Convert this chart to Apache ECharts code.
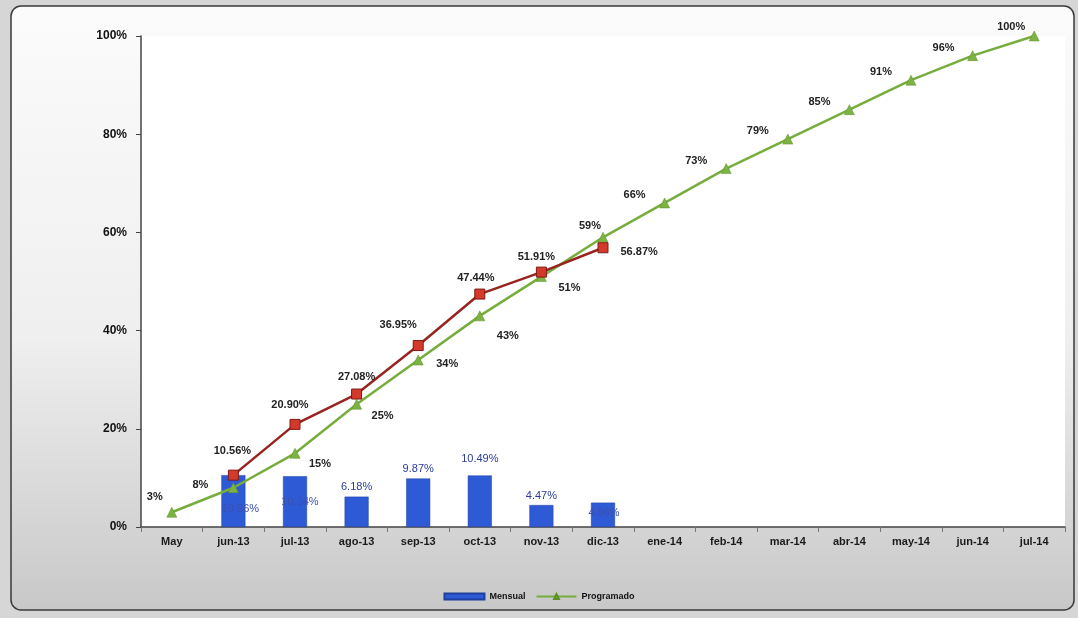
<!DOCTYPE html>
<html style="height: 100%">
   <head>
       <meta charset="utf-8">
   </head>
   <body style="height: 100%; margin: 0">
       <div id="container" style="height: 100%"></div>
       <script type="text/javascript" src="https://cdn.jsdelivr.net/npm/echarts@6/dist/echarts.min.js"></script>
       <script type="text/javascript">
var categories = ['May', 'jun-13', 'jul-13', 'ago-13', 'sep-13', 'oct-13', 'nov-13', 'dic-13',
    'ene-14', 'feb-14', 'mar-14', 'abr-14', 'may-14', 'jun-14', 'jul-14'];
var mensual = [null, 10.56, 10.34, 6.18, 9.87, 10.49, 4.47, 4.96];
var acumulado = [null, 10.56, 20.90, 27.08, 36.95, 47.44, 51.91, 56.87];
var programado = [3, 8, 15, 25, 34, 43, 51, 59, 66, 73, 79, 85, 91, 96, 100];
var yTicks = [0, 20, 40, 60, 80, 100];

// label placement, by index
var barLabelPos = ['top', 'inside', 'inside', 'top', 'top', 'top', 'top', 'inside'];
var barLabelOffset = [[0, 0], [7, 8], [5, 0], [0, 0], [0, 0], [0, -7], [0, 0], [1, -2]];
var realLabelOffset = [[0, 0], [-1, -13], [-5, -8], [0, -6], [-20, -10], [-4, -5], [-5, -4], [0, 4]];
var progLabelOffset = [[-17, -5], [-33, 8], [25, 21], [26, 22], [29, 15], [28, 31], [28, 22], [-13, -1],
    [-30, 3], [-30, 3], [-30, 3], [-30, 3], [-30, 3], [-29, 3], [-23, 2]];

var dom = document.getElementById("container");
var myChart = echarts.init(dom);
var font = 'Liberation Sans';

var option = {
    backgroundColor: '#d6d6d6',
    textStyle: { fontFamily: font },
    graphic: [{
        type: 'rect',
        shape: { x: 11, y: 6, width: 1063, height: 604, r: 10 },
        style: {
            fill: new echarts.graphic.LinearGradient(0, 0, 0, 1, [
                { offset: 0, color: '#fbfbfb' },
                { offset: 0.55, color: '#efefef' },
                { offset: 1, color: '#c8c8c8' }
            ]),
            stroke: '#3a3a3a', lineWidth: 1.5
        },
        z: -10
    }],
    legend: {
        bottom: 12,
        left: 'center',
        itemWidth: 40,
        itemHeight: 6,
        itemGap: 10,
        textStyle: { fontFamily: font, fontWeight: 'bold', fontSize: 9, color: '#111' },
        data: [
            { name: 'Mensual', icon: 'rect' },
            { name: 'Programado' }
        ]
    },
    grid: {
        left: 141, right: 13, top: 36, bottom: 91,
        show: true, backgroundColor: '#ffffff', borderWidth: 0
    },
    xAxis: {
        type: 'category',
        data: categories,
        axisLine: { lineStyle: { color: '#444', width: 1.5 } },
        axisTick: { show: true, lineStyle: { color: '#777' } },
        axisLabel: { fontFamily: font, fontWeight: 'bold', fontSize: 11, color: '#1a1a1a', margin: 9 }
    },
    yAxis: {
        type: 'value',
        min: yTicks[0],
        max: yTicks[yTicks.length - 1],
        interval: 20,
        splitLine: { show: false },
        axisLine: { show: true, lineStyle: { color: '#444', width: 1.5 } },
        axisTick: { show: true, length: 5, lineStyle: { color: '#444' } },
        axisLabel: {
            fontFamily: font, fontWeight: 'bold', fontSize: 12, color: '#111', margin: 14,
            formatter: '{value}%'
        }
    },
    series: [
        {
            name: 'Mensual',
            type: 'bar',
            barWidth: 24,
            itemStyle: { color: '#2f5ad6', borderColor: '#1d3f9e', borderWidth: 0.5 },
            data: mensual.map(function (v, i) {
                return {
                    value: v,
                    label: {
                        show: v != null,
                        position: barLabelPos[i],
                        distance: 4,
                        offset: barLabelOffset[i],
                        fontFamily: font, fontSize: 11,
                        color: barLabelPos[i] === 'top' ? '#2a3b9c' : '#3b4fb0',
                        formatter: function (p) { return p.value.toFixed(2) + '%'; }
                    }
                };
            }),
            z: 2
        },
        {
            name: 'Real',
            type: 'line',
            symbol: 'rect',
            symbolSize: 10,
            lineStyle: { color: '#96251f', width: 2.5 },
            itemStyle: { color: '#d43a2b', borderColor: '#7e1a15', borderWidth: 1 },
            data: acumulado.map(function (v, i) {
                return {
                    value: v,
                    label: {
                        show: v != null,
                        position: i === 7 ? 'right' : 'top',
                        distance: i === 7 ? 12 : 0,
                        offset: realLabelOffset[i],
                        fontFamily: font, fontWeight: 'bold', fontSize: 11, color: '#222',
                        formatter: function (p) { return p.value.toFixed(2) + '%'; }
                    }
                };
            }),
            z: 4
        },
        {
            name: 'Programado',
            type: 'line',
            symbol: 'triangle',
            symbolSize: 10,
            lineStyle: { color: '#76ad3c', width: 2.5 },
            itemStyle: { color: '#7cb342', borderColor: '#5c8f2a', borderWidth: 0.5 },
            data: programado.map(function (v, i) {
                return {
                    value: v,
                    label: {
                        show: true,
                        position: 'top',
                        distance: 0,
                        offset: progLabelOffset[i],
                        fontFamily: font, fontWeight: 'bold', fontSize: 11, color: '#222',
                        formatter: '{c}%'
                    }
                };
            }),
            z: 3
        }
    ]
};

if (option && typeof option === "object") {
    myChart.setOption(option, true);
}
       </script>
   </body>
</html>
